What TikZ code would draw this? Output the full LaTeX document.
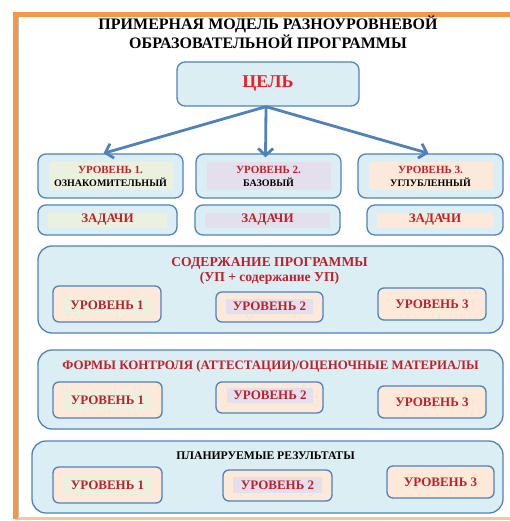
\documentclass[tikz,border=0pt]{standalone}
\usepackage{fontspec}
\setmainfont{Liberation Serif}
\usepackage{xcolor}
\usetikzlibrary{arrows.meta, positioning}
\definecolor{frameorange}{HTML}{F79646}
\definecolor{framelight}{HTML}{FBC597}
\definecolor{boxblue}{HTML}{DBEEF4}
\definecolor{lineblue}{HTML}{4F81BD}
\definecolor{txtred}{HTML}{C0202A}
\definecolor{celred}{HTML}{F01C24}
\definecolor{hlgreen}{HTML}{EBF1DE}
\definecolor{hlviolet}{HTML}{E4DFEC}
\definecolor{hlpeach}{HTML}{FDE9D9}

\begin{document}
\begin{tikzpicture}[x=1pt, y=-1pt, font=\bfseries]
            % Block styles
            \tikzstyle{block} = [rectangle, draw=lineblue, line width=1.3pt, fill=boxblue, rounded corners=8pt, inner sep=0pt]
            \tikzstyle{big_block} = [block, rounded corners=14pt]
            \tikzstyle{lvl_block} = [rectangle, draw=lineblue, line width=1.3pt, fill=hlpeach, rounded corners=6pt, inner sep=0pt]
            \tikzstyle{mark_box} = [rectangle, inner sep=0pt, text centered, align=center]
            \tikzstyle{lvl_text} = [mark_box, text=txtred, font=\fontsize{13}{15}\bfseries]
            \tikzstyle{link} = [draw=lineblue, line width=2.8pt, -{Straight Barb[length=7pt, width=15pt, line width=2.8pt]}]
            \useasboundingbox (0,0) rectangle (510,521);
            % Frame
            \draw[framelight, line width=3pt] (15,518.5) -- (512,518.5);
            \draw[black!25, line width=1.5pt] (18.5,17) -- (18.5,517);
            \draw[frameorange, line width=4.5pt] (15.5,519) -- (15.5,14.5) -- (512,14.5);
            % Title
            \node[mark_box, font=\fontsize{16}{19}\bfseries] (title) at (268,32.5) {ПРИМЕРНАЯ МОДЕЛЬ РАЗНОУРОВНЕВОЙ\\ОБРАЗОВАТЕЛЬНОЙ ПРОГРАММЫ};
            % Goal
            \node[block, minimum width=182pt, minimum height=44pt, text=celred, font=\fontsize{18}{20}\bfseries] (cel) at (268,84) {ЦЕЛЬ};
            % Levels
            \node[block, minimum width=145pt, minimum height=44pt] (lvl1) at (110.5,176) {};
            \node[block, minimum width=145pt, minimum height=44pt] (lvl2) at (268.5,176) {};
            \node[block, minimum width=145pt, minimum height=44pt] (lvl3) at (430.5,176) {};
            \node[mark_box, fill=hlgreen, minimum width=124pt, minimum height=28pt, font=\fontsize{10}{13}\bfseries] (lvl1_txt) at (lvl1) {\textcolor{txtred}{\fontsize{11}{13}\selectfont УРОВЕНЬ 1.}\\ОЗНАКОМИТЕЛЬНЫЙ};
            \node[mark_box, fill=hlviolet, minimum width=124pt, minimum height=28pt, font=\fontsize{10}{13}\bfseries] (lvl2_txt) at (lvl2) {\textcolor{txtred}{\fontsize{11}{13}\selectfont УРОВЕНЬ 2.}\\БАЗОВЫЙ};
            \node[mark_box, fill=hlpeach, minimum width=124pt, minimum height=28pt, font=\fontsize{10}{13}\bfseries] (lvl3_txt) at (lvl3) {\textcolor{txtred}{\fontsize{11}{13}\selectfont УРОВЕНЬ 3.}\\УГЛУБЛЕННЫЙ};
            % Tasks
            \node[block, minimum width=139pt, minimum height=30pt] (task1) at (107.5,220) {};
            \node[block, minimum width=145pt, minimum height=30pt] (task2) at (267.5,220) {};
            \node[block, minimum width=136pt, minimum height=30pt] (task3) at (435,220) {};
            \node[lvl_text, fill=hlgreen, minimum width=119pt, minimum height=15pt] (task1_txt) at (task1) {ЗАДАЧИ};
            \node[lvl_text, fill=hlviolet, minimum width=125pt, minimum height=15pt] (task2_txt) at (task2) {ЗАДАЧИ};
            \node[lvl_text, fill=hlpeach, minimum width=116pt, minimum height=15pt] (task3_txt) at (task3) {ЗАДАЧИ};
            % Content
            \node[big_block, minimum width=465pt, minimum height=87pt] (content) at (270.5,289.5) {};
            \node[mark_box, text=txtred, font=\fontsize{13.6}{15}\bfseries] (content_title) at (269.5,270.5) {СОДЕРЖАНИЕ ПРОГРАММЫ\\(УП + содержание УП)};
            \node[lvl_block, minimum width=108pt, minimum height=36pt] (content1) at (107,304) {};
            \node[lvl_block, minimum width=107pt, minimum height=30pt] (content2) at (269.5,307) {};
            \node[lvl_block, lvl_text, minimum width=108pt, minimum height=32pt] (content3) at (432,304) {УРОВЕНЬ 3};
            \node[lvl_text, fill=hlgreen, minimum width=88pt, minimum height=17pt] (content1_txt) at (107,305) {УРОВЕНЬ 1};
            \node[lvl_text, fill=hlviolet, minimum width=87pt, minimum height=15pt] (content2_txt) at (269.5,306.5) {УРОВЕНЬ 2};
            % Control
            \node[big_block, minimum width=465pt, minimum height=79pt] (control) at (270.5,389.5) {};
            \node[mark_box, text=txtred, font=\fontsize{12.9}{15}\bfseries] (control_title) at (270.5,366) {ФОРМЫ КОНТРОЛЯ (АТТЕСТАЦИИ)/ОЦЕНОЧНЫЕ МАТЕРИАЛЫ};
            \node[lvl_block, minimum width=109pt, minimum height=36pt] (control1) at (107.5,400) {};
            \node[lvl_block, minimum width=107pt, minimum height=31pt] (control2) at (269.5,397.5) {};
            \node[lvl_block, lvl_text, minimum width=108pt, minimum height=32pt] (control3) at (432,402) {УРОВЕНЬ 3};
            \node[lvl_text, fill=hlgreen, minimum width=89pt, minimum height=18pt] (control1_txt) at (control1) {УРОВЕНЬ 1};
            \node[lvl_text, fill=hlviolet, minimum width=86pt, minimum height=15pt] (control2_txt) at (270,395.5) {УРОВЕНЬ 2};
            % Results
            \node[big_block, minimum width=471pt, minimum height=72pt] (result) at (267.5,477) {};
            \node[mark_box, font=\fontsize{11.7}{13}\bfseries] (result_title) at (265.5,456) {ПЛАНИРУЕМЫЕ РЕЗУЛЬТАТЫ};
            \node[lvl_block, minimum width=109pt, minimum height=36pt] (result1) at (107.5,485) {};
            \node[lvl_block, minimum width=109pt, minimum height=31pt] (result2) at (277.5,485.5) {};
            \node[lvl_block, lvl_text, minimum width=107pt, minimum height=32pt] (result3) at (440.5,482) {УРОВЕНЬ 3};
            \node[lvl_text, fill=hlgreen, minimum width=89pt, minimum height=18pt] (result1_txt) at (result1) {УРОВЕНЬ 1};
            \node[lvl_text, fill=hlviolet, minimum width=89pt, minimum height=16pt] (result2_txt) at (277.5,485) {УРОВЕНЬ 2};
            % Connections
            \draw[link] ([xshift=-2pt]cel.south) -- ([xshift=-7pt]lvl1.north);
            \draw[link] ([xshift=-2pt]cel.south) -- ([xshift=-3pt, yshift=-4pt]lvl2.north);
            \draw[link] ([xshift=-2pt]cel.south) -- ([xshift=-2pt]lvl3.north);
        \end{tikzpicture}
\end{document}
